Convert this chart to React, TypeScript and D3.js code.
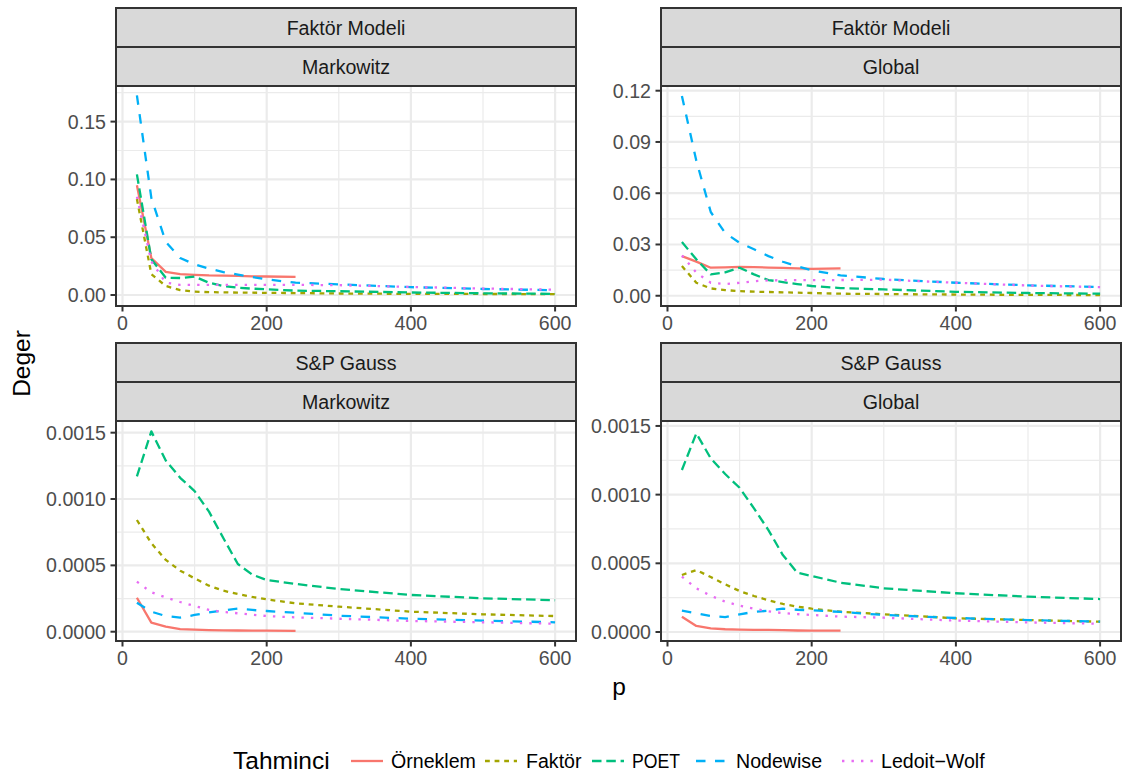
import React from "react";
import * as d3 from "d3";

// ---------- data ----------
const P = [20, 40, 60, 80, 100, 120, 140, 160, 180, 200, 240, 300, 400, 500, 600];
const P_ORN = [20, 40, 60, 80, 100, 120, 140, 160, 180, 200, 240];

const seriesNames = ["Örneklem", "Faktör", "POET", "Nodewise", "Ledoit-Wolf"];
const seriesColors = ["#F8766D", "#A3A500", "#00BF7D", "#00B0F6", "#E76BF3"];
const seriesDash = ["", "4.8 4.8", "9.5 4.8", "9.5 9.5", "2.4 7.1"];

// Faktör Modeli / Markowitz
const ornTL = [0.095, 0.032, 0.02, 0.018, 0.0175, 0.017, 0.0168, 0.0165, 0.0162, 0.016, 0.0157];
const fakTL = [0.083, 0.018, 0.0078, 0.0043, 0.0029, 0.0025, 0.0023, 0.0021, 0.002, 0.0019, 0.0017, 0.0013, 0.001, 0.0009, 0.0008];
const poetTL = [0.1044, 0.031, 0.015, 0.0147, 0.016, 0.0106, 0.0078, 0.0063, 0.0055, 0.0049, 0.0038, 0.0033, 0.0022, 0.0015, 0.001];
const nodTL = [0.1727, 0.084, 0.046, 0.032, 0.0265, 0.0228, 0.0199, 0.0176, 0.0155, 0.0135, 0.0107, 0.0092, 0.0068, 0.0052, 0.0042];
const lwTL = [0.085, 0.029, 0.0107, 0.0088, 0.0087, 0.0087, 0.0088, 0.0088, 0.0088, 0.0088, 0.0088, 0.0085, 0.007, 0.0056, 0.0046];

// Faktör Modeli / Global
const ornTR = [0.0232, 0.02, 0.0164, 0.0166, 0.0169, 0.0167, 0.0165, 0.0163, 0.016, 0.0157, 0.016];
const fakTR = [0.0174, 0.0076, 0.0043, 0.0033, 0.0027, 0.0024, 0.0022, 0.002, 0.0018, 0.0016, 0.0012, 0.001, 0.0007, 0.0005, 0.0004];
const poetTR = [0.0314, 0.0213, 0.0125, 0.0137, 0.0164, 0.0125, 0.0092, 0.008, 0.0068, 0.0057, 0.0045, 0.0037, 0.0023, 0.0016, 0.0012];
const nodTR = [0.1169, 0.079, 0.049, 0.0367, 0.031, 0.0272, 0.0232, 0.0199, 0.0172, 0.0149, 0.0119, 0.0098, 0.0076, 0.0061, 0.0051];
const lwTR = [0.0236, 0.0135, 0.0076, 0.0068, 0.0076, 0.0085, 0.009, 0.0091, 0.0092, 0.0092, 0.0092, 0.0094, 0.0076, 0.006, 0.005];

// S&P Gauss / Markowitz
const ornBL = [0.000256, 0.000068, 0.000038, 0.00002, 0.000015, 0.000012, 0.00001, 0.000009, 0.0000085, 0.000008, 0.000007];
const fakBL = [0.000842, 0.000667, 0.000541, 0.00046, 0.000402, 0.000347, 0.000309, 0.000284, 0.000262, 0.000244, 0.000214, 0.000189, 0.000151, 0.000131, 0.000118];
const poetBL = [0.00117, 0.00151, 0.00129, 0.00116, 0.00106, 0.000905, 0.000704, 0.00051, 0.00043, 0.00039, 0.00036, 0.000322, 0.000277, 0.000252, 0.000237];
const nodBL = [0.000219, 0.000151, 0.000118, 0.000106, 0.000126, 0.000146, 0.000161, 0.000174, 0.000164, 0.000156, 0.000143, 0.000121, 0.000098, 0.000083, 0.000071];
const lwBL = [0.000377, 0.000297, 0.000259, 0.000224, 0.000194, 0.000164, 0.000149, 0.000139, 0.000128, 0.000118, 0.000108, 0.000098, 0.000081, 0.000071, 0.00006];

// S&P Gauss / Global
const ornBR = [0.000111, 0.000044, 0.000027, 0.00002, 0.000017, 0.000016, 0.000015, 0.000013, 0.000011, 0.00001, 0.00001];
const fakBR = [0.000415, 0.000451, 0.0004, 0.000347, 0.000298, 0.000262, 0.000231, 0.000204, 0.000185, 0.00017, 0.000148, 0.000129, 0.0001, 0.000087, 0.000075];
const poetBR = [0.001179, 0.001446, 0.001264, 0.00115, 0.00105, 0.0009, 0.000742, 0.00056, 0.000432, 0.000408, 0.000359, 0.000318, 0.000282, 0.000257, 0.00024];
const nodBR = [0.000155, 0.000136, 0.000116, 0.000109, 0.000129, 0.000146, 0.000155, 0.00017, 0.000162, 0.000158, 0.000146, 0.000124, 0.000102, 0.000087, 0.000075];
const lwBR = [0.000403, 0.000318, 0.000264, 0.000221, 0.000191, 0.00017, 0.00015, 0.000138, 0.00013, 0.000124, 0.000112, 0.000104, 0.000083, 0.00007, 0.00006];

const xTicks = [0, 200, 400, 600];
const xMinor = [100, 300, 500];
const yTicksTop1 = [0, 0.05, 0.1, 0.15];
const yTicksTop2 = [0, 0.03, 0.06, 0.09, 0.12];
const yTicksBottom = [0, 0.0005, 0.001, 0.0015];

const panelsDef = [
  { s1: "Faktör Modeli", s2: "Markowitz", col: 0, row: 0, dom: [-0.0095, 0.1808], ticks: yTicksTop1, fmt: ".2f", data: [ornTL, fakTL, poetTL, nodTL, lwTL] },
  { s1: "Faktör Modeli", s2: "Global", col: 1, row: 0, dom: [-0.006, 0.12275], ticks: yTicksTop2, fmt: ".2f", data: [ornTR, fakTR, poetTR, nodTR, lwTR] },
  { s1: "S&P Gauss", s2: "Markowitz", col: 0, row: 1, dom: [-0.00007, 0.001588], ticks: yTicksBottom, fmt: ".4f", data: [ornBL, fakBL, poetBL, nodBL, lwBL] },
  { s1: "S&P Gauss", s2: "Global", col: 1, row: 1, dom: [-0.0000655, 0.001536], ticks: yTicksBottom, fmt: ".4f", data: [ornBR, fakBR, poetBR, nodBR, lwBR] },
];

// ---------- layout ----------
const W = 1138, H = 776;
const colX = [[116, 576], [661, 1121]];
const rowY = [[86, 306], [421, 641]];
const stripH = 39;
const FONT = "'Liberation Sans', Arial, Helvetica, sans-serif";
const TICK_FS = 19.6;
const TITLE_FS = 24.5;

const legendItems = [
  { key: 351, text: 391 },
  { key: 485, text: 526 },
  { key: 592, text: 632 },
  { key: 696, text: 736 },
  { key: 842, text: 881 },
];

function Panel({ def }: { def: any }) {
  const [x0, x1] = colX[def.col];
  const [y0, y1] = rowY[def.row];
  const x = d3.scaleLinear().domain([-9, 629]).range([x0, x1]);
  const y = d3.scaleLinear().domain(def.dom).range([y1, y0]);
  const fmt = d3.format(def.fmt);
  const step = def.ticks[1] - def.ticks[0];
  const minorY: number[] = [];
  for (let i = 0; i <= def.ticks.length; i++) {
    const v = def.ticks[0] + (i - 0.5) * step;
    if (v > def.dom[0] && v < def.dom[1]) minorY.push(v);
  }
  const line = d3.line<[number, number]>().x((d) => x(d[0])).y((d) => y(d[1]));
  const clipId = `clip-${def.col}-${def.row}`;
  return (
    <g>
      <defs>
        <clipPath id={clipId}>
          <rect x={x0} y={y0} width={x1 - x0} height={y1 - y0} />
        </clipPath>
      </defs>
      <rect x={x0} y={y0} width={x1 - x0} height={y1 - y0} fill="#FFFFFF" />
      {minorY.map((v) => (
        <line key={"my" + v} x1={x0} x2={x1} y1={y(v)} y2={y(v)} stroke="#EBEBEB" strokeWidth={1.2} />
      ))}
      {xMinor.map((v) => (
        <line key={"mx" + v} x1={x(v)} x2={x(v)} y1={y0} y2={y1} stroke="#EBEBEB" strokeWidth={1.2} />
      ))}
      {def.ticks.map((v: number) => (
        <line key={"gy" + v} x1={x0} x2={x1} y1={y(v)} y2={y(v)} stroke="#EBEBEB" strokeWidth={2.2} />
      ))}
      {xTicks.map((v) => (
        <line key={"gx" + v} x1={x(v)} x2={x(v)} y1={y0} y2={y1} stroke="#EBEBEB" strokeWidth={2.2} />
      ))}
      <g clipPath={`url(#${clipId})`}>
        {def.data.map((vals: number[], i: number) => {
          const ps = i === 0 ? P_ORN : P;
          const pts = vals.map((v, j) => [ps[j], v] as [number, number]);
          return (
            <path
              key={i}
              d={line(pts) || ""}
              fill="none"
              stroke={seriesColors[i]}
              strokeWidth={2.3}
              strokeDasharray={seriesDash[i] || undefined}
              strokeLinejoin="round"
            />
          );
        })}
      </g>
      <rect x={x0} y={y0} width={x1 - x0} height={y1 - y0} fill="none" stroke="#333333" strokeWidth={2} />
      {/* strips */}
      <rect x={x0} y={y0 - 2 * stripH} width={x1 - x0} height={stripH} fill="#D9D9D9" stroke="#333333" strokeWidth={2} />
      <rect x={x0} y={y0 - stripH} width={x1 - x0} height={stripH} fill="#D9D9D9" stroke="#333333" strokeWidth={2} />
      <text x={(x0 + x1) / 2} y={y0 - 1.5 * stripH + 7} textAnchor="middle" fontSize={TICK_FS} fill="#1A1A1A" fontFamily={FONT}>{def.s1}</text>
      <text x={(x0 + x1) / 2} y={y0 - 0.5 * stripH + 7} textAnchor="middle" fontSize={TICK_FS} fill="#1A1A1A" fontFamily={FONT}>{def.s2}</text>
      {/* y axis */}
      {def.ticks.map((v: number) => (
        <g key={"ty" + v}>
          <line x1={x0 - 5.5} x2={x0} y1={y(v)} y2={y(v)} stroke="#333333" strokeWidth={2} />
          <text x={x0 - 10} y={y(v) + 7} textAnchor="end" fontSize={TICK_FS} fill="#4D4D4D" fontFamily={FONT}>{fmt(v)}</text>
        </g>
      ))}
      {/* x axis */}
      {xTicks.map((v) => (
        <g key={"tx" + v}>
          <line x1={x(v)} x2={x(v)} y1={y1} y2={y1 + 5.5} stroke="#333333" strokeWidth={2} />
          <text x={x(v)} y={y1 + 24} textAnchor="middle" fontSize={TICK_FS} fill="#4D4D4D" fontFamily={FONT}>{v}</text>
        </g>
      ))}
    </g>
  );
}

export default function App() {
  return (
    <svg width={W} height={H} style={{ position: "absolute", left: 0, top: 0, background: "#FFFFFF" }}>
      <rect x={0} y={0} width={W} height={H} fill="#FFFFFF" />
      {panelsDef.map((d, i) => (
        <Panel key={i} def={d} />
      ))}
      <text x={619} y={695} textAnchor="middle" fontSize={TITLE_FS} fill="#000000" fontFamily={FONT}>p</text>
      <text transform={`translate(30, 363.5) rotate(-90)`} textAnchor="middle" fontSize={TITLE_FS} fill="#000000" fontFamily={FONT}>Deger</text>
      <text x={233} y={769} fontSize={TITLE_FS} fill="#000000" fontFamily={FONT}>Tahminci</text>
      {seriesNames.map((n, i) => (
        <g key={n}>
          <line x1={legendItems[i].key} x2={legendItems[i].key + 32} y1={761} y2={761} stroke={seriesColors[i]} strokeWidth={2.3} strokeDasharray={seriesDash[i] || undefined} />
          <text x={legendItems[i].text} y={768} fontSize={TICK_FS} fill="#000000" fontFamily={FONT} textLength={n === "POET" ? 48 : undefined} lengthAdjust="spacingAndGlyphs">{n === "Ledoit-Wolf" ? "Ledoit\u2212Wolf" : n}</text>
        </g>
      ))}
    </svg>
  );
}
